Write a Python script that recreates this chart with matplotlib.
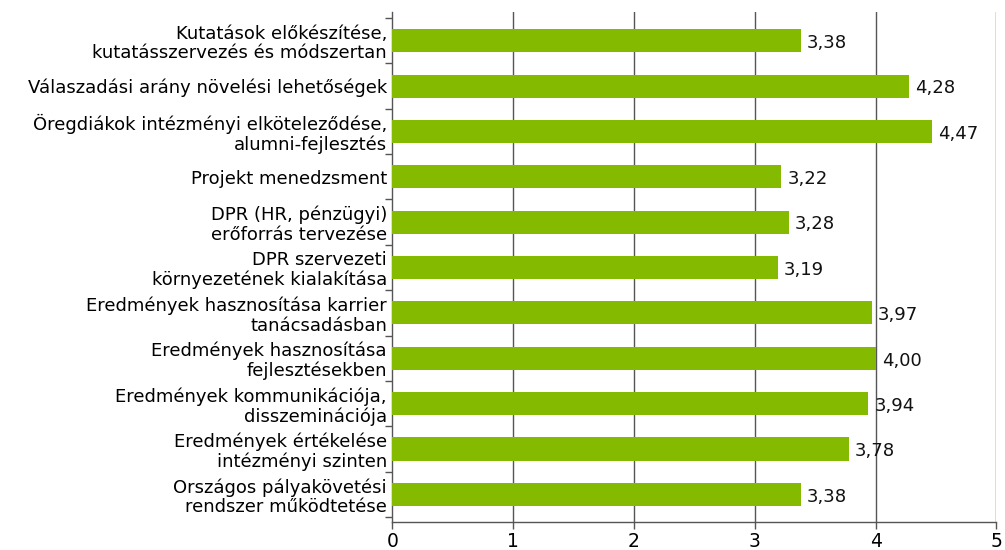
import numpy as np
import matplotlib.pyplot as plt

plt.rcParams['font.family'] = ['DejaVu Sans']

kategoriak = [
    "Kutatások előkészítése,\nkutatásszervezés és módszertan",
    "Válaszadási arány növelési lehetőségek",
    "Öregdiákok intézményi elköteleződése,\nalumni-fejlesztés",
    "Projekt menedzsment",
    "DPR (HR, pénzügyi)\nerőforrás tervezése",
    "DPR szervezeti\nkörnyezetének kialakítása",
    "Eredmények hasznosítása karrier\ntanácsadásban",
    "Eredmények hasznosítása\nfejlesztésekben",
    "Eredmények kommunikációja,\ndisszeminációja",
    "Eredmények értékelése\nintézményi szinten",
    "Országos pályakövetési\nrendszer működtetése",
]
ertekek = [3.38, 4.28, 4.47, 3.22, 3.28, 3.19, 3.97, 4.00, 3.94, 3.78, 3.38]
x_tickek = [0, 1, 2, 3, 4, 5]

zold = '#84bb00'
racs = '#555555'
betu = 13

fig = plt.figure(figsize=(10.05, 5.5), dpi=100)
ax = fig.add_axes([0.3905, 0.0509, 0.601, 0.927])

y = np.arange(len(kategoriak))
ax.barh(y, ertekek, height=0.51, color=zold, zorder=3)

for yi, v in zip(y, ertekek):
    ax.text(v + 0.05, yi + 0.05, f"{v:.2f}".replace('.', ','), va='center', ha='left',
            fontsize=betu, color='#111111', zorder=4)

ax.set_xlim(0, 5)
ax.set_ylim(len(kategoriak) - 0.39, -0.63)
ax.set_xticks(x_tickek)
ax.set_xticklabels([str(t) for t in x_tickek], fontsize=betu + 0.5)

# kategóriák neve középen, tick jelek a határokon
ax.set_yticks(y)
ax.set_yticklabels(kategoriak, fontsize=betu, linespacing=1.1)
ax.tick_params(axis='y', length=0, pad=4)
ax.set_yticks(np.arange(-0.5, len(kategoriak)), minor=True)
ax.tick_params(axis='y', which='minor', length=5, color=racs, width=1)
ax.tick_params(axis='x', length=5, color=racs, width=1, pad=2)

for t in x_tickek[1:]:
    ax.axvline(t, color=racs, lw=1, zorder=2)

for s in ['top', 'right']:
    ax.spines[s].set_visible(False)
for s in ['left', 'bottom']:
    ax.spines[s].set_color(racs)
    ax.spines[s].set_linewidth(1)

fig.savefig('out.png', dpi=100)
